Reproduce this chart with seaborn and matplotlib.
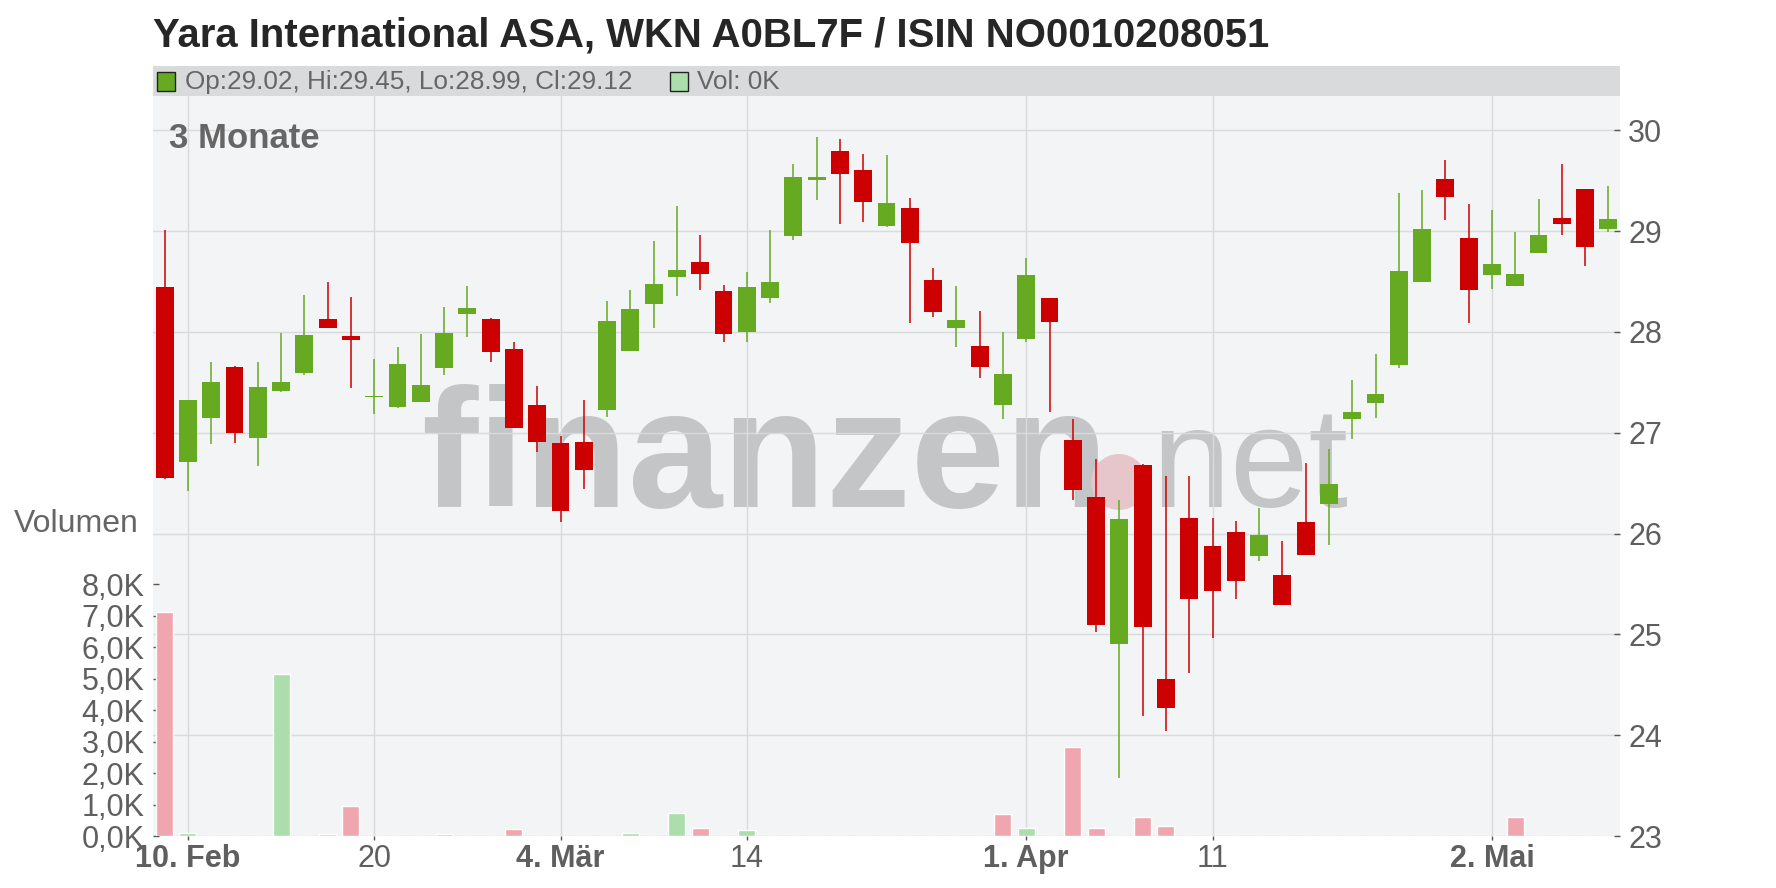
import matplotlib
matplotlib.use("Agg")
import matplotlib.pyplot as plt
from matplotlib.patches import Rectangle, Circle
from matplotlib.transforms import IdentityTransform
import numpy as np
import pandas as pd
import seaborn as sns

# trading days (German exchange, 2025)
holidays = ["2025-04-18", "2025-04-21", "2025-05-01"]
dates = pd.bdate_range("2025-02-07", "2025-05-09", freq="C", holidays=holidays)

opens = [28.45, 26.71, 27.15, 27.65, 26.95, 27.41, 27.59, 28.13, 27.96, 27.35,
         27.26, 27.30, 27.64, 28.18, 28.13, 27.83, 27.28, 26.90, 26.91, 27.23,
         27.81, 28.28, 28.54, 28.69, 28.41, 28.00, 28.34, 28.95, 29.51, 29.79,
         29.61, 29.05, 29.23, 28.51, 28.04, 27.86, 27.28, 27.93, 28.34, 26.93,
         26.36, 24.90, 26.68, 24.56, 26.15, 25.88, 26.02, 25.78, 25.59, 26.11,
         26.29, 27.14, 27.29, 27.67, 28.50, 29.52, 28.93, 28.56, 28.46, 28.78,
         29.13, 29.42, 29.02]
highs = [29.01, 27.32, 27.70, 27.66, 27.70, 27.99, 28.37, 28.50, 28.35, 27.73,
         27.85, 27.98, 28.25, 28.46, 28.14, 27.90, 27.46, 26.97, 27.32, 28.31,
         28.42, 28.90, 29.25, 28.96, 28.47, 28.59, 29.01, 29.67, 29.93, 29.91,
         29.76, 29.75, 29.33, 28.63, 28.46, 28.21, 28.00, 28.73, 28.34, 27.14,
         26.74, 26.33, 26.69, 26.57, 26.57, 26.15, 26.12, 26.25, 25.93, 26.70,
         26.84, 27.52, 27.78, 29.38, 29.41, 29.71, 29.27, 29.21, 28.99, 29.32,
         29.67, 29.42, 29.45]
lows = [26.54, 26.42, 26.89, 26.90, 26.67, 27.40, 27.57, 28.04, 27.44, 27.19,
        27.25, 27.30, 27.57, 27.95, 27.70, 27.05, 26.81, 26.11, 26.44, 27.16,
        27.81, 28.04, 28.36, 28.42, 27.90, 27.90, 28.29, 28.91, 29.31, 29.07,
        29.09, 29.04, 28.09, 28.15, 27.85, 27.54, 27.14, 27.90, 27.21, 26.33,
        25.02, 23.58, 24.19, 24.04, 24.62, 24.96, 25.35, 25.73, 25.29, 25.79,
        25.89, 26.94, 27.15, 27.64, 28.50, 29.11, 28.09, 28.43, 28.46, 28.78,
        28.96, 28.65, 28.99]
closes = [26.55, 27.32, 27.50, 27.00, 27.45, 27.50, 27.97, 28.04, 27.92, 27.36,
          27.68, 27.47, 27.99, 28.24, 27.80, 27.05, 26.91, 26.22, 26.63, 28.11,
          28.23, 28.48, 28.61, 28.57, 27.98, 28.45, 28.50, 29.54, 29.54, 29.57,
          29.29, 29.28, 28.88, 28.20, 28.12, 27.65, 27.58, 28.56, 28.10, 26.43,
          25.09, 26.14, 25.07, 24.27, 25.35, 25.43, 25.53, 25.99, 25.29, 25.79,
          26.49, 27.21, 27.38, 28.60, 29.02, 29.34, 28.42, 28.67, 28.57, 28.96,
          29.07, 28.84, 29.12]
volume_k = [7.12, 0.10, 0, 0, 0, 5.15, 0, 0.07, 0.95, 0,
            0, 0, 0.07, 0, 0, 0.22, 0, 0, 0, 0,
            0.10, 0, 0.73, 0.25, 0, 0.19, 0, 0, 0, 0,
            0, 0, 0, 0, 0, 0, 0.70, 0.25, 0, 2.83,
            0.25, 0, 0.60, 0.32, 0, 0, 0, 0, 0, 0,
            0, 0, 0, 0, 0, 0, 0, 0, 0.60, 0,
            0, 0, 0]

tick_dates = ["2025-02-10", "2025-02-20", "2025-03-04", "2025-03-14",
              "2025-04-01", "2025-04-11", "2025-05-02"]
tick_labels = ["10. Feb", "20", "4. Mär", "14", "1. Apr", "11", "2. Mai"]
month_labels = ["10. Feb", "4. Mär", "1. Apr", "2. Mai"]
price_ticks = [23, 24, 25, 26, 27, 28, 29, 30]
vol_ticks = [0, 1, 2, 3, 4, 5, 6, 7, 8]

title = "Yara International ASA, WKN A0BL7F / ISIN NO0010208051"

GREEN = "#66aa22"
RED = "#cc0000"
VOL_GREEN = "#abdeab"
VOL_RED = "#f0a6ae"
TXT = "#5f5f5f"
GRID = "#d9dadc"

df = pd.DataFrame({"date": dates, "open": opens, "high": highs, "low": lows,
                   "close": closes, "volume": volume_k})
df["pos"] = np.arange(len(df))
up = df["close"] >= df["open"]
candle_colors = np.where(up, GREEN, RED)
prev_close = df["close"].shift(1).fillna(df["open"])
df["vol_dir"] = np.where(df["close"] >= prev_close, "up", "down")

sns.set_theme(style="white")
plt.rcParams["font.family"] = ["Liberation Sans", "DejaVu Sans"]

W, H = 1776, 888
fig = plt.figure(figsize=(W / 100, H / 100), dpi=100)


def fx(px):
    return px / W


def fy(py):
    return 1 - py / H


ax = fig.add_axes([fx(153), fy(836), fx(1620) - fx(153), fy(96) - fy(836)])
ax.set_facecolor("#f3f4f6")
vax = ax.twinx()

# watermark
ax.text(fx(421), fy(507), "finanzen", transform=fig.transFigure, fontsize=122,
        fontweight="bold", color="#c4c5c7", va="baseline", ha="left", zorder=0.2)
ax.text(fx(1152), fy(507), "net", transform=fig.transFigure, fontsize=102,
        color="#c4c5c7", va="baseline", ha="left", zorder=0.2)
ax.add_patch(Circle((1119, H - 482), 28, transform=IdentityTransform(),
                    facecolor="#e7c6cb", edgecolor="none", zorder=0.25))

# candles
ax.vlines(df["pos"], df["low"], df["high"], colors=candle_colors, linewidth=1.1, zorder=3)
ax.bar(df["pos"], (df["close"] - df["open"]).abs(),
       bottom=df[["open", "close"]].min(axis=1), width=0.77,
       color=candle_colors, linewidth=0, zorder=4)

ax.set_xlim(-0.5, 62.5)
ax.set_ylim(23, 30.34)
ax.set_axisbelow(True)
ax.grid(True, color=GRID, linewidth=1.0)

tick_pos = [int(np.where(df["date"] == pd.Timestamp(d))[0][0]) for d in tick_dates]
ax.set_xticks(tick_pos)
ax.set_xticklabels(tick_labels)
for lab in ax.get_xticklabels():
    if lab.get_text() in month_labels:
        lab.set_fontweight("bold")
ax.set_yticks(price_ticks)
ax.set_yticklabels([str(p) for p in price_ticks])
ax.yaxis.tick_right()
ax.tick_params(axis="x", bottom=True, direction="out", length=3, width=1,
               color="#555555", pad=3, labelsize=22, labelcolor=TXT)
ax.tick_params(axis="y", right=True, left=False, labelright=True, labelleft=False,
               direction="in", length=4, width=1, color="#555555", pad=6,
               labelsize=22, labelcolor=TXT)
for s in ax.spines.values():
    s.set_visible(False)

# volume
sns.barplot(data=df, x="pos", y="volume", hue="vol_dir",
            palette={"up": VOL_GREEN, "down": VOL_RED}, native_scale=True,
            width=0.73, errorbar=None, legend=False, dodge=False,
            saturation=1, ax=vax)
vax.set_xlim(-0.5, 62.5)
vax.set_ylim(0, 23.52)
vax.set_yticks(vol_ticks)
vax.set_yticklabels([f"{v:.1f}K".replace(".", ",") for v in vol_ticks])
vax.yaxis.tick_left()
vax.tick_params(axis="y", left=True, right=False, labelleft=True, labelright=False,
                direction="in", length=4, width=1, color="#555555", pad=6,
                labelsize=22, labelcolor=TXT)
vax.set_xlabel("")
vax.set_ylabel("")
vax.grid(False)
for s in vax.spines.values():
    s.set_visible(False)

# header bar
hax = fig.add_axes([fx(153), fy(96), fx(1620) - fx(153), fy(66) - fy(96)])
hax.set_facecolor("#d9dadb")
hax.set_xlim(0, 1467)
hax.set_ylim(0, 30)
hax.set_xticks([])
hax.set_yticks([])
for s in hax.spines.values():
    s.set_visible(False)
last = df.iloc[-1]
hax.add_patch(Rectangle((4, 5.3), 18, 18.7, facecolor=GREEN, edgecolor="#222222", lw=1))
hax.text(32, 7, f"Op:{last['open']:.2f}, Hi:{last['high']:.2f}, "
         f"Lo:{last['low']:.2f}, Cl:{last['close']:.2f}",
         fontsize=18.8, color="#666666", va="baseline")
hax.add_patch(Rectangle((517, 5.3), 18, 18.7, facecolor=VOL_GREEN, edgecolor="#222222", lw=1))
hax.text(544, 7, f"Vol: {last['volume']:.0f}K", fontsize=18.8, color="#666666", va="baseline")

fig.text(fx(153), fy(46.7), title, fontsize=28.9, fontweight="bold",
         color="#262626", va="baseline", ha="left")
fig.text(fx(169), fy(148.3), "3 Monate", fontsize=25, fontweight="bold",
         color="#666666", va="baseline", ha="left")
fig.text(fx(139), fy(532), "Volumen", fontsize=23, color="#666666",
         va="baseline", ha="right")

fig.savefig("out.png", dpi=100)
